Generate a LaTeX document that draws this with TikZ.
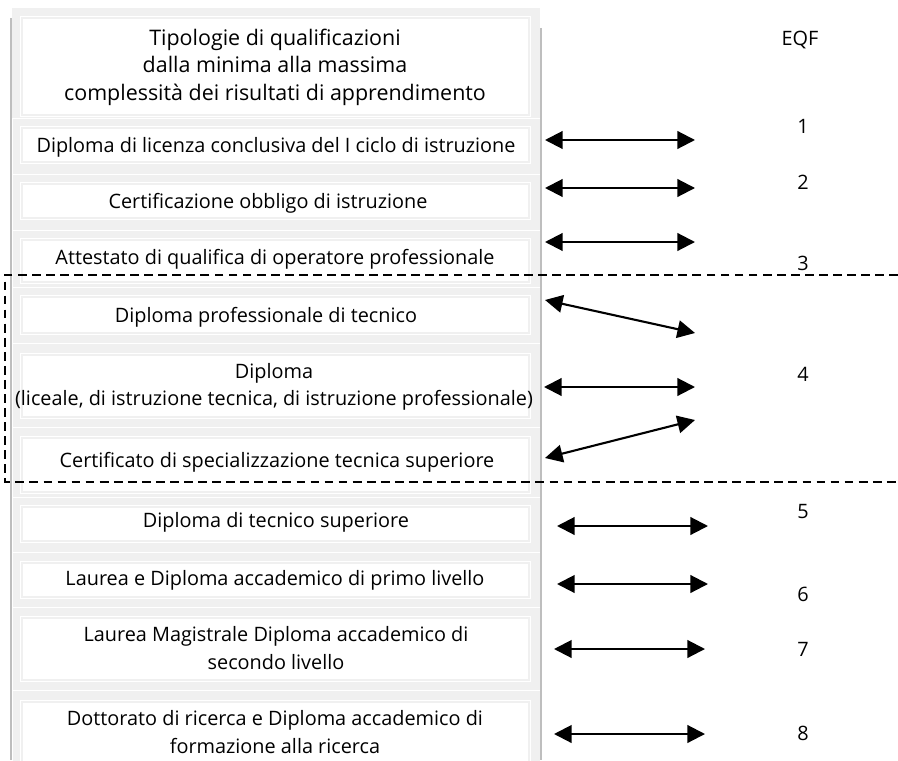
\documentclass[tikz,border=0pt]{standalone}
\usepackage{fontspec}
\setmainfont{Open Sans}
\usepackage{tikz}
\usetikzlibrary{arrows.meta,positioning}
\definecolor{cellgray}{RGB}{240,240,240}
\definecolor{rulegray}{RGB}{190,190,190}

\begin{document}
\begin{tikzpicture}[
  x=0.02cm, y=-0.02cm,
  rowbg/.style={fill=cellgray, draw=white, line width=0.5pt},
  innerbox/.style={fill=white, draw=white, double=cellgray, double distance=1.1pt, line width=0.45pt},
  sideline/.style={draw=rulegray, line width=1.2pt},
  qual/.style={align=center, inner sep=0pt, font=\fontsize{11.3}{15.6}\selectfont},
  headtxt/.style={align=center, inner sep=0pt, font=\fontsize{12.2}{15.6}\selectfont},
  lvl/.style={inner sep=0pt, font=\fontsize{11.3}{13}\selectfont},
  arr/.style={{Triangle[length=10pt,width=10pt]}-{Triangle[length=10pt,width=10pt]}, line width=1.2pt},
  band/.style={dash pattern=on 5pt off 3pt, line width=0.7pt}
]
\useasboundingbox (0,0) rectangle (898,760);

%% Table background
\fill[cellgray] (12,8) rectangle (540,118);
\draw[rowbg] (12,118) rectangle (540,174);
\draw[rowbg] (12,174) rectangle (540,230);
\draw[rowbg] (12,230) rectangle (540,287);
\draw[rowbg] (12,287) rectangle (540,343);
\draw[rowbg] (12,343) rectangle (540,427);
\draw[rowbg] (12,427) rectangle (540,497);
\draw[rowbg] (12,497) rectangle (540,552);
\draw[rowbg] (12,552) rectangle (540,607);
\draw[rowbg] (12,607) rectangle (540,690);
\draw[rowbg] (12,690) rectangle (540,775);

%% Inner boxes
\draw[innerbox] (22,18) rectangle (529,115);
\draw[innerbox] (22,128) rectangle (529,162);
\draw[innerbox] (22,184) rectangle (529,218);
\draw[innerbox] (22,240) rectangle (529,282);
\draw[innerbox] (22,297) rectangle (529,333);
\draw[innerbox] (22,355) rectangle (529,417);
\draw[innerbox] (22,438) rectangle (529,492);
\draw[innerbox] (22,507) rectangle (529,541);
\draw[innerbox] (22,563) rectangle (529,597);
\draw[innerbox] (22,618) rectangle (529,680);
\draw[innerbox] (22,702) rectangle (529,775);

\draw[sideline] (11,18) -- (11,760);
\draw[sideline] (541,28) -- (541,760);

%% Qualifications
\node[headtxt] (head) at (275,67)
  {Tipologie di qualificazioni\\dalla minima alla massima\\complessità dei risultati di apprendimento};
\node[qual] (q1) at (276,147) {Diploma di licenza conclusiva del I ciclo di istruzione};
\node[qual] (q2) at (268,203) {Certificazione obbligo di istruzione};
\node[qual] (q3) at (275,259) {Attestato di qualifica di operatore professionale};
\node[qual] (q4) at (266,317) {Diploma professionale di tecnico};
\node[qual] (q5) at (274,387) {Diploma\\(liceale, di istruzione tecnica, di istruzione professionale)};
\node[qual] (q6) at (277,462) {Certificato di specializzazione tecnica superiore};
\node[qual] (q7) at (276,522) {Diploma di tecnico superiore};
\node[qual] (q8) at (275,580) {Laurea e Diploma accademico di primo livello};
\node[qual] (q9) at (276,648) {Laurea Magistrale Diploma accademico di\\secondo livello};
\node[qual] (q10) at (275,732) {Dottorato di ricerca e Diploma accademico di\\formazione alla ricerca};

%% EQF levels
\node[lvl] (eqf) at (800,40) {EQF};
\node[lvl] (l1) at (803,126) {1};
\node[lvl] (l2) at (803,182) {2};
\node[lvl] (l3) at (803,263) {3};
\node[lvl] (l4) at (803,374) {4};
\node[lvl] (l5) at (803,512) {5};
\node[lvl] (l6) at (803,594) {6};
\node[lvl] (l7) at (803,649) {7};
\node[lvl] (l8) at (803,733) {8};

%% Arrow ends
\coordinate (a1) at (545,140);  \coordinate (b1) at (695,140);
\coordinate (a2) at (545,188);  \coordinate (b2) at (695,188);
\coordinate (a3) at (545,242);  \coordinate (b3) at (695,242);
\coordinate (a4) at (545,300);  \coordinate (b4) at (695,333);
\coordinate (a5) at (544,387);  \coordinate (b5) at (695,387);
\coordinate (a6) at (545,458);  \coordinate (b6) at (695,420);
\coordinate (a7) at (557,526);  \coordinate (b7) at (708,526);
\coordinate (a8) at (557,584);  \coordinate (b8) at (708,584);
\coordinate (a9) at (554,649);  \coordinate (b9) at (705,649);
\coordinate (a10) at (554,734); \coordinate (b10) at (705,734);

\draw[arr] (a1) -- (b1);
\draw[arr] (a2) -- (b2);
\draw[arr] (a3) -- (b3);
\draw[arr] (a4) -- (b4);
\draw[arr] (a5) -- (b5);
\draw[arr] (a6) -- (b6);
\draw[arr] (a7) -- (b7);
\draw[arr] (a8) -- (b8);
\draw[arr] (a9) -- (b9);
\draw[arr] (a10) -- (b10);

%% EQF 4 band
\coordinate (bandtr) at (898,275);
\coordinate (bandbr) at (898,482);
\draw[band] (bandtr) -- (5,275) -- (5,482) -- (bandbr);

\end{tikzpicture}
\end{document}
